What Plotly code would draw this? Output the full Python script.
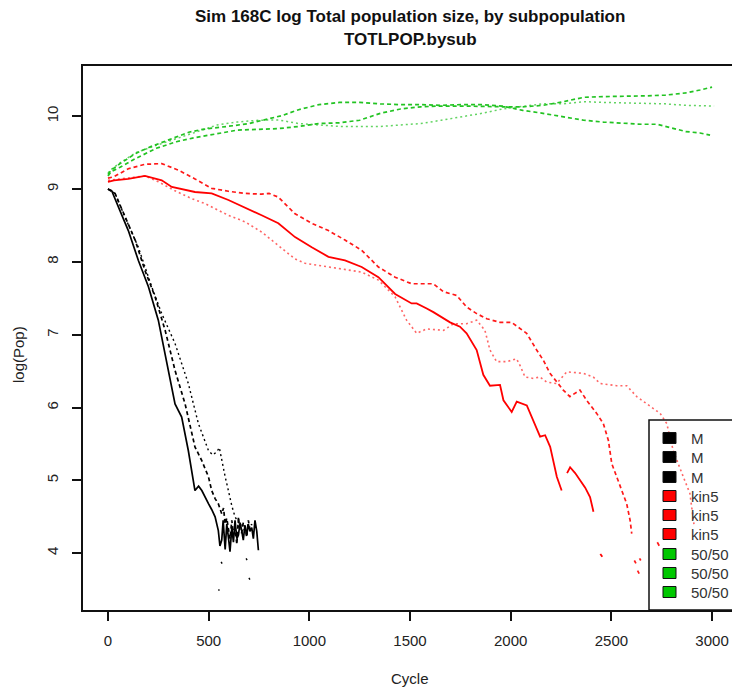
import plotly.graph_objects as go

# ---------------- data ----------------
cycle_M1 = [0, 18, 60, 101, 151, 201, 250, 300, 333, 366, 399, 432, 450, 466, 485, 499, 515, 532, 548, 556, 565, 572, 582, 590, 598, 606, 615, 623, 631, 640, 648, 656, 664, 672, 680, 689, 697, 705, 714, 722, 730, 739, 747]
pop_M1 = [9.00, 8.98, 8.70, 8.43, 8.02, 7.66, 7.20, 6.51, 6.05, 5.87, 5.41, 4.86, 4.92, 4.86, 4.75, 4.68, 4.60, 4.50, 4.31, 4.10, 4.18, 4.45, 4.05, 4.40, 4.22, 4.02, 4.35, 4.15, 4.45, 4.20, 4.25, 4.42, 4.31, 4.18, 4.38, 4.25, 4.40, 4.30, 4.35, 4.20, 4.45, 4.30, 4.04]

cycle_M2 = [0, 35, 85, 135, 184, 234, 284, 333, 383, 432, 466, 499, 515, 532, 548, 565, 574, 582, 590, 598, 606, 615, 623, 631, 640, 648, 656, 664, 672, 681, 689, 697, 705, 714]
pop_M2 = [9.00, 8.94, 8.62, 8.30, 7.88, 7.52, 7.06, 6.51, 6.05, 5.46, 5.27, 5.05, 4.86, 4.75, 4.68, 4.54, 4.62, 4.40, 4.48, 4.31, 4.20, 4.45, 4.25, 4.35, 4.12, 4.50, 4.30, 4.28, 4.42, 4.36, 4.22, 4.45, 4.33, 4.40]

cycle_M3 = [0, 35, 90, 151, 217, 267, 333, 399, 449, 499, 520, 540, 553, 565, 582, 598, 615, 631, 648, 664, 680,
            None, 548, 554, None, 562, 568, None, 686, 692, None, 700, 706]
pop_M3 = [9.00, 8.94, 8.58, 8.20, 7.66, 7.29, 6.88, 6.33, 5.78, 5.41, 5.35, 5.39, 5.45, 5.27, 5.05, 4.86, 4.65, 4.50, 4.42, 4.40, 4.30,
          None, 3.50, 3.49, None, 3.88, 3.85, None, 3.93, 3.90, None, 3.66, 3.63]

cycle_K1 = [0, 30, 101, 184, 267, 317, 432, 515, 598, 681, 763, 846, 929, 1012, 1095, 1177, 1260, 1343, 1426, 1508, 1533, 1583, 1616, 1699, 1748, 1781, 1831, 1864, 1897, 1947, 1964, 2005, 2030, 2080, 2113, 2146, 2171, 2196, 2229, 2253,
            None, 2280, 2295, 2320, 2344, 2370, 2394, 2411, None, 2445, 2455]
pop_K1 = [9.10, 9.12, 9.14, 9.18, 9.12, 9.03, 8.96, 8.94, 8.85, 8.75, 8.64, 8.53, 8.34, 8.20, 8.07, 8.02, 7.93, 7.79, 7.56, 7.43, 7.43, 7.36, 7.31, 7.17, 7.11, 7.02, 6.79, 6.45, 6.30, 6.31, 6.10, 5.94, 6.08, 6.03, 5.82, 5.60, 5.62, 5.46, 5.05, 4.86,
          None, 5.10, 5.18, 5.10, 5.00, 4.90, 4.77, 4.57, None, 3.99, 3.95]

cycle_K2 = [0, 30, 101, 184, 267, 350, 432, 515, 598, 681, 763, 800, 846, 929, 1012, 1095, 1177, 1260, 1343, 1426, 1508, 1574, 1616, 1666, 1732, 1781, 1831, 1881, 1947, 2004, 2046, 2079, 2129, 2162, 2195, 2228, 2261, 2294, 2320, 2344, 2377, 2427, 2460, 2485, 2502, 2543, 2576, 2593, 2601,
            None, 2614, 2622, None, 2630, 2638, None, 2640, 2646, None, 2728, 2738]
pop_K2 = [9.15, 9.17, 9.28, 9.34, 9.35, 9.26, 9.14, 9.01, 8.97, 8.94, 8.93, 8.94, 8.89, 8.66, 8.53, 8.43, 8.30, 8.16, 7.93, 7.79, 7.70, 7.70, 7.70, 7.59, 7.54, 7.38, 7.29, 7.22, 7.17, 7.17, 7.08, 7.02, 6.79, 6.65, 6.47, 6.35, 6.24, 6.15, 6.20, 6.24, 6.10, 5.92, 5.78, 5.55, 5.23, 4.91, 4.68, 4.45, 4.27,
          None, 3.90, 3.86, None, 3.76, 3.72, None, 3.93, 3.90, None, 4.15, 4.10]

cycle_K3 = [0, 30, 101, 184, 250, 330, 415, 482, 598, 681, 763, 846, 929, 979, 1095, 1193, 1260, 1343, 1426, 1483, 1533, 1583, 1666, 1716, 1781, 1831, 1872, 1897, 1930, 1980, 2029, 2046, 2071, 2112, 2145, 2178, 2228, 2278, 2361, 2410, 2444, 2526, 2576, 2626, 2676, 2742, 2775, 2808, 2857, 2890, 2910]
pop_K3 = [9.12, 9.13, 9.16, 9.18, 9.10, 8.98, 8.87, 8.80, 8.64, 8.55, 8.41, 8.23, 8.04, 7.98, 7.93, 7.88, 7.86, 7.75, 7.52, 7.20, 7.02, 7.08, 7.06, 7.15, 7.15, 7.20, 7.06, 6.79, 6.63, 6.63, 6.67, 6.58, 6.42, 6.40, 6.42, 6.35, 6.33, 6.49, 6.47, 6.42, 6.33, 6.30, 6.30, 6.15, 6.05, 5.92, 5.78, 5.40, 5.05, 4.82, 4.40]

cycle_G1 = [0, 16, 60, 138, 210, 280, 340, 401, 470, 542, 620, 700, 785, 866, 947, 1048, 1149, 1250, 1352, 1450, 1554, 1650, 1756, 1857, 1959, 2060, 2161, 2260, 2363, 2460, 2566, 2650, 2728, 2800, 2869, 2940, 2990]
pop_G1 = [9.20, 9.26, 9.35, 9.49, 9.58, 9.65, 9.72, 9.78, 9.82, 9.84, 9.87, 9.90, 9.96, 10.01, 10.09, 10.16, 10.19, 10.19, 10.17, 10.16, 10.16, 10.15, 10.16, 10.16, 10.14, 10.08, 10.04, 9.99, 9.945, 9.92, 9.90, 9.89, 9.89, 9.84, 9.79, 9.77, 9.74]

cycle_G2 = [0, 16, 60, 138, 240, 340, 420, 502, 643, 750, 846, 947, 1048, 1149, 1250, 1352, 1453, 1554, 1650, 1756, 1857, 1959, 2060, 2161, 2262, 2363, 2460, 2566, 2670, 2768, 2869, 2940, 3000]
pop_G2 = [9.18, 9.24, 9.30, 9.42, 9.56, 9.65, 9.70, 9.74, 9.81, 9.82, 9.83, 9.86, 9.90, 9.91, 9.945, 10.04, 10.10, 10.13, 10.14, 10.14, 10.13, 10.13, 10.13, 10.15, 10.20, 10.26, 10.27, 10.27, 10.28, 10.29, 10.32, 10.36, 10.40]

cycle_G3 = [0, 16, 60, 138, 240, 340, 461, 542, 640, 745, 846, 947, 1048, 1149, 1250, 1352, 1453, 1554, 1655, 1756, 1857, 1959, 2060, 2161, 2262, 2363, 2460, 2566, 2670, 2768, 2869, 3010]
pop_G3 = [9.22, 9.27, 9.36, 9.50, 9.60, 9.69, 9.81, 9.88, 9.92, 9.945, 9.95, 9.90, 9.88, 9.86, 9.86, 9.86, 9.88, 9.90, 9.945, 9.99, 10.04, 10.10, 10.13, 10.17, 10.17, 10.20, 10.19, 10.18, 10.18, 10.17, 10.15, 10.14]

legend_labels = ["M", "M", "M", "kin5", "kin5", "kin5", "50/50", "50/50", "50/50"]
x_ticks = [0, 500, 1000, 1500, 2000, 2500, 3000]
y_ticks = [4, 5, 6, 7, 8, 9, 10]

# ---------------- styling ----------------
W, H = 732, 692
L, R, T, B = 83, 732, 66, 610
FONT = "Liberation Sans, Arial, sans-serif"

def px(x):
    return (x - L) / (R - L)

def py(y):
    return (B - y) / (B - T)

series = [
    (cycle_M1, pop_M1, "#000000", "solid", 1.0, 1.7),
    (cycle_M2, pop_M2, "#000000", "4px,3px", 1.0, 1.7),
    (cycle_M3, pop_M3, "#000000", "2px,3px", 1.0, 1.4),
    (cycle_K1, pop_K1, "#FF0000", "solid", 1.0, 1.8),
    (cycle_K2, pop_K2, "#FF0000", "4px,3px", 0.9, 1.7),
    (cycle_K3, pop_K3, "#FF0000", "2px,3px", 0.6, 1.6),
    (cycle_G1, pop_G1, "#22C322", "4px,3px", 1.0, 1.7),
    (cycle_G2, pop_G2, "#22C322", "4px,3px", 1.0, 1.7),
    (cycle_G3, pop_G3, "#22C322", "2px,3px", 0.7, 1.5),
]

fig = go.Figure()
for xs, ys, col, dash, op, w in series:
    fig.add_trace(go.Scatter(x=xs, y=ys, mode="lines", connectgaps=False,
                             line=dict(color=col, width=w, dash=dash),
                             opacity=op, showlegend=False, hoverinfo="skip"))

axis_common = dict(showgrid=False, zeroline=False, showline=True, linecolor="#111",
                   linewidth=1.5, ticks="outside", ticklen=9, tickwidth=1.5,
                   tickcolor="#111", tickfont=dict(family=FONT, size=15, color="#222"))

fig.update_layout(
    width=W, height=H,
    margin=dict(l=L, r=W - R, t=T, b=H - B, pad=0),
    paper_bgcolor="white", plot_bgcolor="white",
    xaxis=dict(range=[-124, 3099], tickvals=x_ticks, mirror=True,
               ticklabelstandoff=7, **axis_common),
    yaxis=dict(range=[3.22, 10.69], tickvals=y_ticks, tickangle=-90,
               ticklabelstandoff=8, **axis_common),
    showlegend=False,
)

ann = []
ann.append(dict(x=px(410), y=py(17), xref="paper", yref="paper", showarrow=False,
                text="<b>Sim 168C log Total population size, by subpopulation</b>",
                font=dict(family=FONT, size=17, color="#111"), xanchor="center", yanchor="middle"))
ann.append(dict(x=px(410), y=py(40), xref="paper", yref="paper", showarrow=False,
                text="<b>TOTLPOP.bysub</b>",
                font=dict(family=FONT, size=17, color="#111"), xanchor="center", yanchor="middle"))
ann.append(dict(x=px(410), y=py(678), xref="paper", yref="paper", showarrow=False,
                text="Cycle", font=dict(family=FONT, size=15, color="#222"),
                xanchor="center", yanchor="middle"))
ann.append(dict(x=px(18), y=py(355), xref="paper", yref="paper", showarrow=False,
                text="log(Pop)", textangle=-90, font=dict(family=FONT, size=15, color="#222"),
                xanchor="center", yanchor="middle"))

shapes = []
# legend box (bottom-right, extends past the right edge)
shapes.append(dict(type="rect", xref="paper", yref="paper", x0=px(649), x1=px(745),
                   y0=py(610), y1=py(420), line=dict(color="#111", width=1.5),
                   fillcolor="rgba(0,0,0,0)", layer="above"))
rows = [438, 457, 477, 496, 515, 534, 554, 573, 592]
fills = ["#000000"] * 3 + ["#FF0000"] * 3 + ["#00C800"] * 3
for ry, lab, fc in zip(rows, legend_labels, fills):
    shapes.append(dict(type="rect", xref="paper", yref="paper",
                       x0=px(663), x1=px(676), y0=py(ry + 5.5), y1=py(ry - 5.5),
                       fillcolor=fc, line=dict(color="#111", width=1), layer="above"))
    ann.append(dict(x=px(689), y=py(ry), xref="paper", yref="paper", showarrow=False,
                    text=lab, font=dict(family=FONT, size=15, color="#333"),
                    xanchor="left", yanchor="middle"))

fig.update_layout(annotations=ann, shapes=shapes)
fig.write_html("out.html")
